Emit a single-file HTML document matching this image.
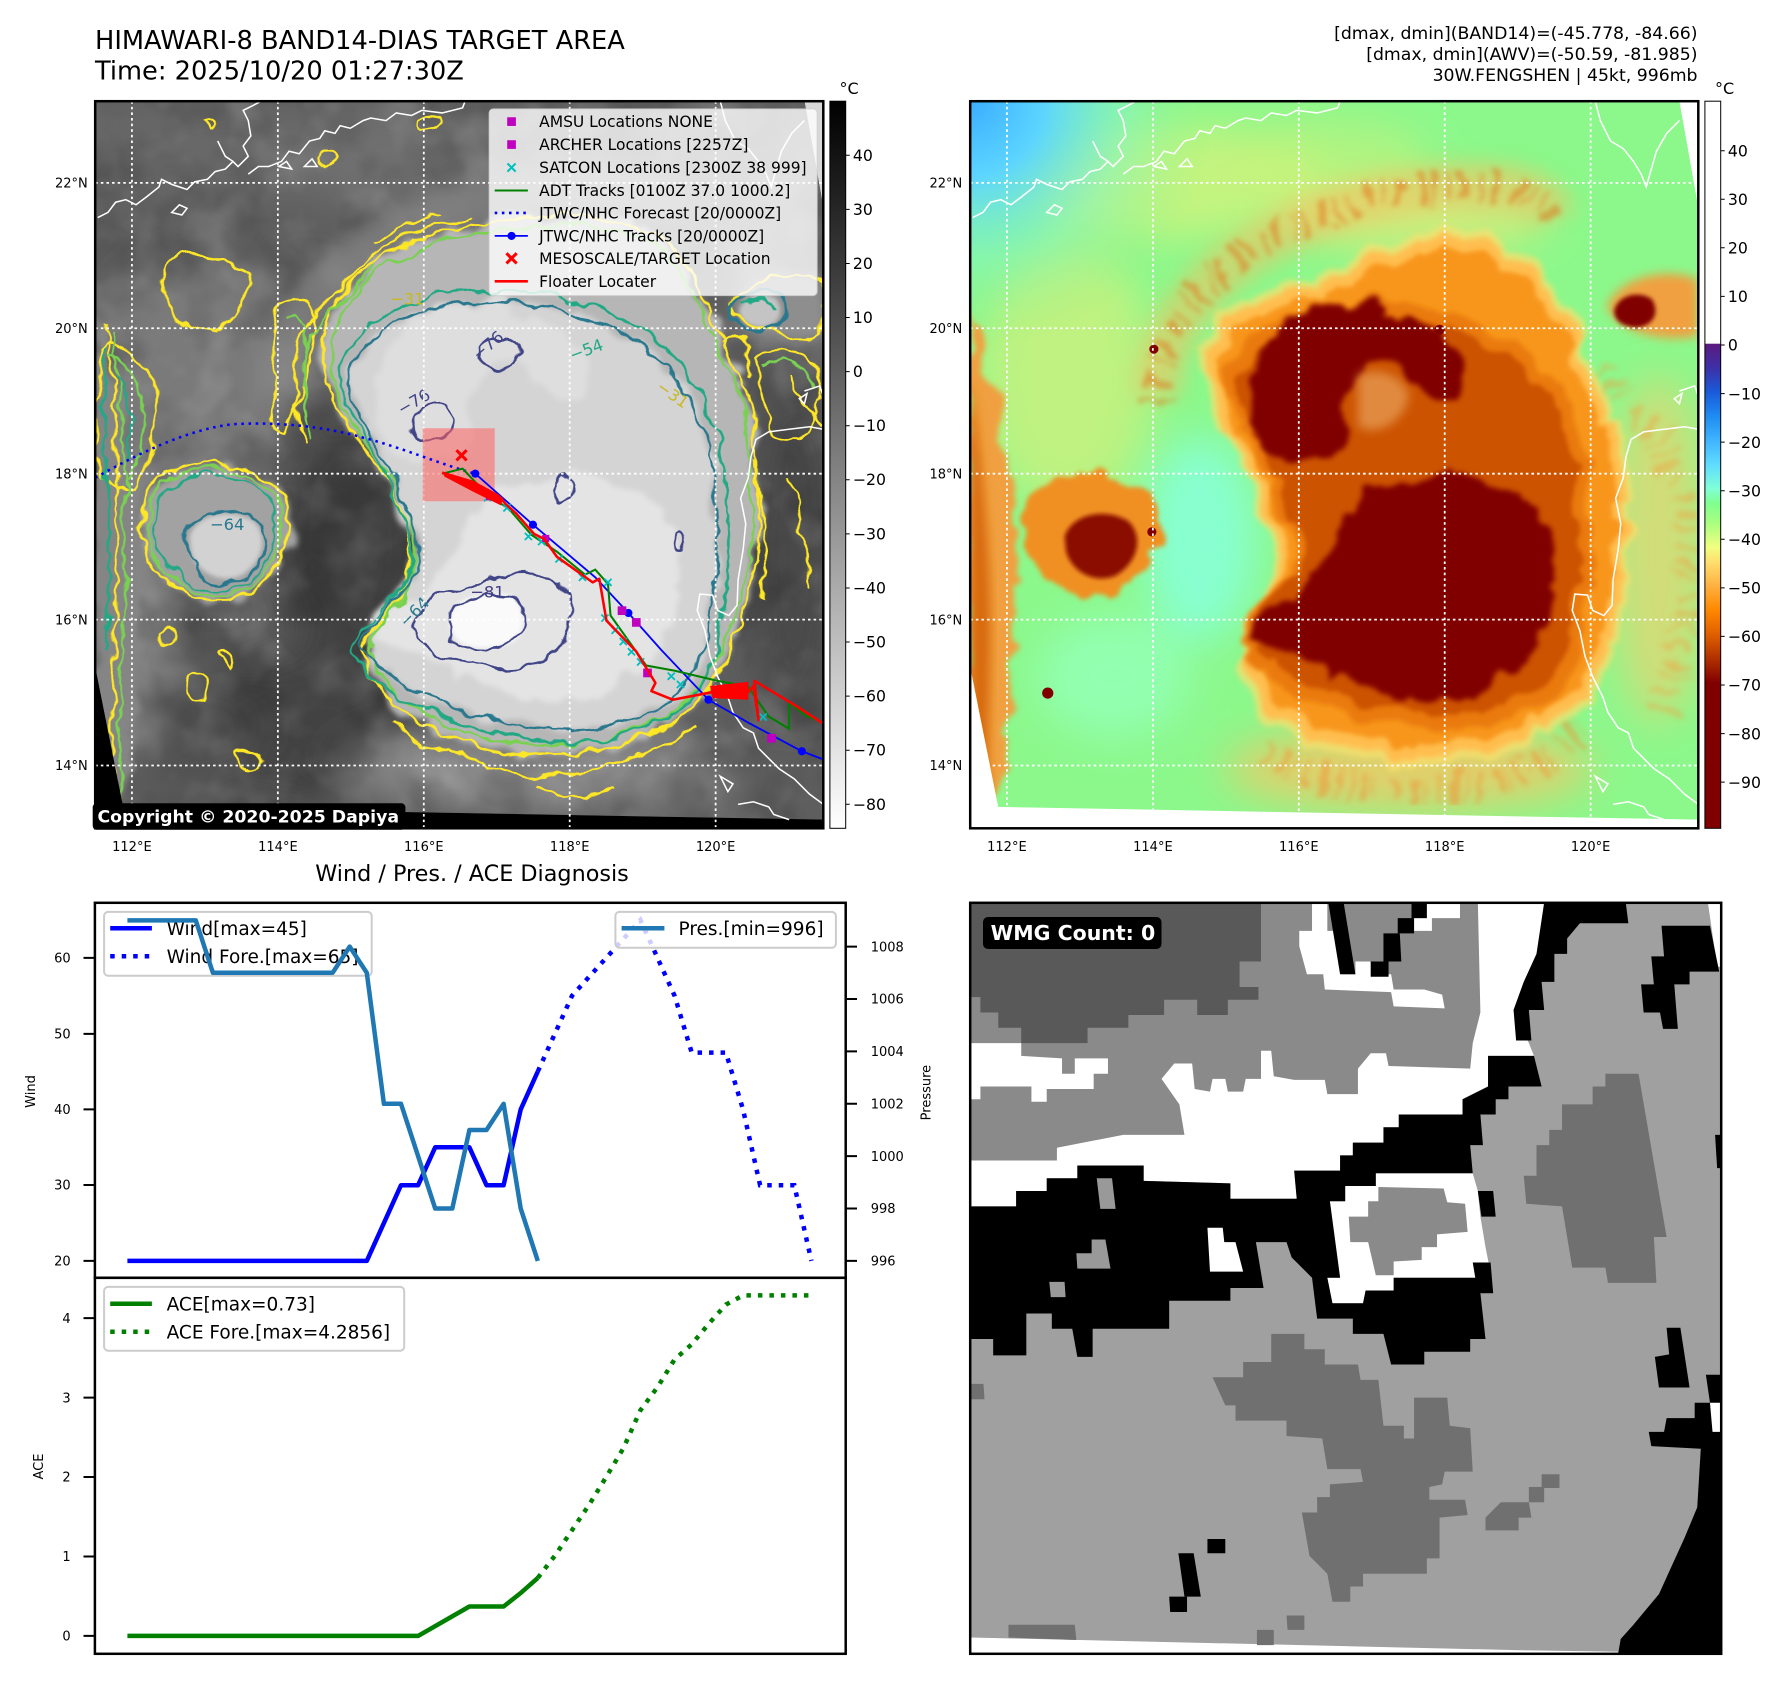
<!DOCTYPE html>
<html><head><meta charset="utf-8"><style>
html,body{margin:0;padding:0;background:#fff;}
#w{position:relative;width:1788px;height:1690px;overflow:hidden;background:#fff;}
svg{display:block;}
</style></head><body><div id="w">
<svg width="1788" height="1690" viewBox="0 0 1788 1690" font-family="DejaVu Sans, Liberation Sans, sans-serif">
<defs>
<filter id="b4" x="-30%" y="-30%" width="160%" height="160%"><feGaussianBlur stdDeviation="4"/></filter>
<filter id="b10" x="-30%" y="-30%" width="160%" height="160%"><feGaussianBlur stdDeviation="10"/></filter>
<filter id="b20" x="-40%" y="-40%" width="180%" height="180%"><feGaussianBlur stdDeviation="20"/></filter>
<filter id="b40" x="-60%" y="-60%" width="220%" height="220%"><feGaussianBlur stdDeviation="40"/></filter>
<filter id="wig" x="-8%" y="-8%" width="116%" height="116%">
<feTurbulence type="fractalNoise" baseFrequency="0.018" numOctaves="3" seed="2" result="t"/>
<feDisplacementMap in="SourceGraphic" in2="t" scale="34" xChannelSelector="R" yChannelSelector="G"/>
</filter>
<filter id="wf" x="-20%" y="-20%" width="140%" height="140%">
<feTurbulence type="fractalNoise" baseFrequency="0.014" numOctaves="3" seed="5" result="t"/>
<feDisplacementMap in="SourceGraphic" in2="t" scale="60" xChannelSelector="R" yChannelSelector="G" result="d"/>
<feGaussianBlur in="d" stdDeviation="5"/>
</filter>
<filter id="mottD" x="0" y="0" width="100%" height="100%">
<feTurbulence type="fractalNoise" baseFrequency="0.008" numOctaves="3" seed="9"/>
<feColorMatrix type="matrix" values="0 0 0 0 0  0 0 0 0 0  0 0 0 0 0  2.0 0 0 0 -0.9"/>
<feGaussianBlur stdDeviation="3"/>
</filter>
<filter id="mottL" x="0" y="0" width="100%" height="100%">
<feTurbulence type="fractalNoise" baseFrequency="0.01" numOctaves="3" seed="21"/>
<feColorMatrix type="matrix" values="0 0 0 0 1  0 0 0 0 1  0 0 0 0 1  2.0 0 0 0 -0.95"/>
<feGaussianBlur stdDeviation="3"/>
</filter>
<clipPath id="dclip"><path d="M20,22 L1410,22 L1447,230 L1447,1430 L75,1405 L20,1130 Z"/></clipPath>
<linearGradient id="cbL" x1="0" y1="0" x2="0" y2="1"><stop offset="0" stop-color="#000"/><stop offset="1" stop-color="#fff"/></linearGradient>
<linearGradient id="cbR" x1="0" y1="0" x2="0" y2="1">
<stop offset="0" stop-color="#fff"/><stop offset="0.333" stop-color="#fff"/><stop offset="0.334" stop-color="#5c1a80"/>
<stop offset="0.367" stop-color="#3c30a8"/><stop offset="0.40" stop-color="#1a5ad8"/><stop offset="0.433" stop-color="#1e8cf0"/>
<stop offset="0.467" stop-color="#40b4ff"/><stop offset="0.50" stop-color="#60dcff"/><stop offset="0.533" stop-color="#80ffd8"/>
<stop offset="0.553" stop-color="#80ff90"/><stop offset="0.58" stop-color="#a8ff80"/><stop offset="0.613" stop-color="#f0ff80"/>
<stop offset="0.633" stop-color="#ffe070"/><stop offset="0.667" stop-color="#ffb040"/><stop offset="0.70" stop-color="#ff8800"/>
<stop offset="0.733" stop-color="#e06000"/><stop offset="0.767" stop-color="#b03000"/><stop offset="0.80" stop-color="#800000"/><stop offset="1" stop-color="#800000"/>
</linearGradient>
<radialGradient id="cyan" gradientUnits="userSpaceOnUse" cx="20" cy="22" r="480">
<stop offset="0" stop-color="#3aaeff"/><stop offset="0.3" stop-color="#5cd4ff"/><stop offset="0.65" stop-color="#80f4c8" stop-opacity="0.5"/><stop offset="1" stop-color="#8cf88c" stop-opacity="0"/>
</radialGradient>
<path id="halo" d="M470,480 C480,400 560,330 660,290 C770,255 890,245 1000,250 C1110,258 1175,320 1205,400 C1240,480 1300,560 1312,680 C1322,800 1330,900 1300,1000 C1272,1100 1222,1195 1140,1248 C1040,1300 920,1312 800,1292 C700,1272 610,1222 562,1152 C532,1105 552,1065 602,1012 C640,970 645,900 625,830 C600,750 520,690 485,610 C465,560 465,520 470,480 Z"/>
<path id="haloR" d="M500,480 C540,420 620,400 700,390 C760,335 850,290 950,288 C1050,290 1120,320 1160,400 C1200,480 1260,580 1295,700 C1310,800 1305,950 1285,1050 C1260,1150 1210,1220 1120,1262 C1020,1310 900,1315 790,1298 C690,1280 610,1230 565,1160 C535,1110 560,1060 605,1010 C630,960 625,880 600,810 C570,740 520,690 500,620 C490,560 490,510 500,480 Z"/>
<path id="mid" d="M520,565 C540,475 640,425 760,418 C880,412 1000,440 1090,500 C1180,560 1222,650 1232,760 C1242,880 1240,1000 1212,1100 C1182,1190 1100,1238 1000,1250 C880,1262 760,1232 660,1182 C592,1150 552,1112 545,1082 C560,1040 622,990 652,940 C664,870 624,800 592,730 C562,670 515,620 520,565 Z"/>
<path id="cU" d="M565,600 C560,520 620,450 700,425 C780,410 860,430 920,465 C960,480 985,520 975,570 C965,610 920,600 890,570 C860,540 810,520 780,545 C760,590 770,650 740,700 C710,735 650,740 610,715 C580,690 568,650 565,600 Z"/>
<path id="cL" d="M560,1075 C600,1040 650,1000 690,950 C730,890 760,820 800,775 C880,750 1010,755 1090,790 C1165,830 1185,920 1165,1000 C1140,1090 1075,1160 980,1190 C880,1210 790,1180 720,1140 C660,1110 600,1100 560,1075 Z"/>
<path id="bLh" d="M125,790 C160,735 250,722 320,742 C385,762 412,822 392,885 C380,950 338,1000 268,1000 C198,1000 140,962 120,902 C108,852 112,815 125,790 Z"/>
<path id="bLc" d="M205,875 C220,830 285,818 330,845 C360,875 350,925 305,952 C262,968 220,945 208,905 Z"/>
<path id="bRh" d="M1268,425 C1290,365 1390,345 1447,372 L1447,482 C1390,495 1295,480 1268,425 Z"/>
<path id="bRc" d="M1282,432 C1290,402 1330,392 1356,410 C1372,436 1360,462 1326,466 C1296,463 1282,452 1282,432 Z"/>
<path id="ringP" d="M385,600 C390,470 480,360 620,285 C740,220 900,180 1050,190 C1110,195 1150,215 1160,250"/>
<path id="strip" d="M20,440 C60,500 100,700 110,900 C115,1100 90,1300 75,1405 L20,1405 Z"/>
<g id="coast" fill="none" stroke="#fff" stroke-width="3">
<path d="M25,250 L45,240 L60,220 L80,215 L100,225 L120,210 L145,190 L150,175 L170,185 L200,195 L215,180 L240,175 L255,160 L275,155 L290,140 L300,150 L320,130 L310,110 L325,90 L320,60 L310,40 L330,30 L345,22"/>
<path d="M320,165 L340,150 L360,150 L385,140 L400,120 L420,125 L440,100 L460,95 L470,80 L490,85 L500,70 L520,75 L545,60 L560,55 L590,60 L610,45 L640,50 L660,40 L700,45 L740,35 L745,22"/>
<path d="M260,100 L275,130 L290,140 M170,240 L185,225 L200,232 L190,245 Z M380,150 L395,140 L405,155 Z M430,150 L445,135 L455,150 Z"/>
<path d="M1245,22 L1255,60 L1275,100 L1300,115 L1320,140 L1335,165 L1345,190 L1352,165 L1365,120 L1385,85 L1410,60"/>
<path d="M1447,665 L1420,660 L1380,665 L1340,670 L1315,685 L1305,720 L1300,760 L1285,800 L1295,850 L1290,900 L1280,960 L1278,1010 L1262,1030 L1240,1020 L1230,990 L1205,988 L1200,1020 L1215,1060 L1225,1110 L1240,1150 L1260,1190 L1270,1220 L1290,1250 L1310,1260 L1320,1290 L1340,1310 L1360,1330 L1390,1350 L1420,1380 L1447,1400"/>
<path d="M1245,1345 L1270,1360 L1260,1375 Z M1280,1400 L1310,1395 L1340,1405 L1350,1420 L1380,1430 M1410,590 L1440,580 L1447,600 M1400,605 L1415,595 L1410,615 Z"/>
</g>
<g id="grid" fill="none" stroke="#fff" stroke-width="3.5" stroke-dasharray="5 6">
<path d="M92,22V1447 M378,22V1447 M664,22V1447 M950,22V1447 M1236,22V1447 M20,182H1447 M20,467H1447 M20,752H1447 M20,1038H1447 M20,1324H1447"/>
</g>
</defs>

<!-- Titles -->
<text x="95" y="49" font-size="25.7" fill="#000">HIMAWARI-8 BAND14-DIAS TARGET AREA</text>
<text x="95" y="79.5" font-size="25.7" fill="#000">Time: 2025/10/20 01:27:30Z</text>
<g font-size="17.3" text-anchor="end" fill="#000">
<text x="1697.5" y="39">[dmax, dmin](BAND14)=(-45.778, -84.66)</text>
<text x="1697.5" y="60">[dmax, dmin](AWV)=(-50.59, -81.985)</text>
<text x="1697.5" y="81">30W.FENGSHEN | 45kt, 996mb</text>
</g>
<text x="839.5" y="94" font-size="16">°C</text>
<text x="1715" y="94" font-size="16">°C</text>

<!-- LEFT MAP -->
<svg x="95.2" y="101.2" width="728.1" height="727.1" viewBox="20 22 1427 1425" preserveAspectRatio="none" overflow="hidden">
<rect x="0" y="0" width="1500" height="1500" fill="#000"/>
<path d="M1410,22 L1447,22 L1447,230 Z" fill="#d8d8d8"/>
<g clip-path="url(#dclip)">
<rect x="20" y="22" width="1427" height="1425" fill="#5e5e5e"/>
<g filter="url(#b40)">
<ellipse cx="250" cy="120" rx="260" ry="110" fill="#686868"/>
<ellipse cx="600" cy="130" rx="200" ry="100" fill="#707070"/>
<ellipse cx="230" cy="560" rx="200" ry="230" fill="#7a7a7a"/>
<ellipse cx="520" cy="880" rx="150" ry="240" fill="#404040"/>
<ellipse cx="470" cy="1250" rx="250" ry="160" fill="#434343"/>
<ellipse cx="200" cy="1250" rx="150" ry="120" fill="#505050"/>
<ellipse cx="1390" cy="900" rx="100" ry="340" fill="#484848"/>
<ellipse cx="1350" cy="250" rx="120" ry="200" fill="#6e6e6e"/>
<ellipse cx="90" cy="1000" rx="70" ry="300" fill="#868686"/>
<ellipse cx="880" cy="1330" rx="380" ry="80" fill="#8a8a8a"/>
<ellipse cx="1380" cy="440" rx="90" ry="60" fill="#8c8c8c"/>
</g>
<rect x="20" y="22" width="1427" height="1425" filter="url(#mottD)" opacity="0.25"/>
<rect x="20" y="22" width="1427" height="1425" filter="url(#mottL)" opacity="0.18"/>
<use href="#ringP" fill="none" stroke="#8a8a8a" stroke-width="100" opacity="0.7" filter="url(#b20)"/>
<use href="#strip" fill="#858585" filter="url(#wf)"/>
<use href="#halo" fill="#b6b6b6" filter="url(#wf)"/>
<use href="#mid" fill="#d4d4d4" filter="url(#wf)"/>
<use href="#cU" fill="#dedede" filter="url(#wf)"/>
<use href="#cL" fill="#e4e4e4" filter="url(#wf)"/>
<path d="M720,1020 C740,990 790,985 830,990 C860,1000 865,1050 850,1070 C830,1095 770,1100 740,1085 C715,1070 710,1040 720,1020 Z" fill="#fafafa" filter="url(#b4)"/>
<use href="#bLh" fill="#a2a2a2" filter="url(#wf)"/>
<use href="#bLc" fill="#d2d2d2" filter="url(#b4)"/>
<use href="#bRh" fill="#8e8e8e" filter="url(#b10)"/>
<use href="#bRc" fill="#c4c4c4" filter="url(#b4)"/>
<!-- contours -->
<g fill="none" stroke-width="5" stroke-linejoin="round" filter="url(#wig)">
<use href="#halo" stroke="#fde725"/>
<use href="#halo" stroke="#7ad151" transform="translate(930 780) scale(.965) translate(-930 -780)"/>
<use href="#mid" stroke="#22a884" transform="translate(880 830) scale(1.06) translate(-880 -830)"/>
<use href="#mid" stroke="#2a788e"/>
<use href="#bLh" stroke="#fde725"/>
<use href="#bLh" stroke="#7ad151" transform="translate(255 870) scale(.92) translate(-255 -870)"/>
<use href="#bLh" stroke="#22a884" transform="translate(255 870) scale(.84) translate(-255 -870)"/>
<use href="#bLc" stroke="#2a788e" transform="translate(280 890) scale(1.1) translate(-280 -890)"/>
<use href="#bRh" stroke="#fde725"/>
<use href="#bRc" stroke="#2a788e" transform="translate(1325 432) scale(1.3) translate(-1325 -432)"/>
<path stroke="#fde725" d="M430,700 C410,620 400,540 430,470 C460,420 520,380 560,330 C600,290 680,260 760,250 M170,330 C220,310 290,330 320,360 C330,400 300,440 260,470 C220,480 180,460 160,420 C150,380 155,350 170,330 Z M40,450 C60,600 70,800 60,1000 C55,1150 50,1300 60,1400 M1250,500 C1280,450 1320,500 1300,560 M720,1290 C800,1340 900,1360 1000,1330 C1080,1310 1150,1280 1200,1250 M600,1240 C640,1280 680,1300 720,1290 M1380,560 C1400,620 1430,640 1447,660 M200,1150 C230,1130 260,1160 230,1190 C200,1200 190,1170 200,1150 Z M450,130 C470,110 500,120 490,140 C470,160 450,150 450,130 Z M230,60 C250,50 260,70 245,80 Z M650,60 C680,40 720,60 700,80 C680,90 650,80 650,60 Z"/>
<path stroke="#fde725" d="M30,500 C60,480 110,520 130,580 C150,650 130,740 90,780 C60,790 30,760 25,700 Z M380,420 C420,400 460,430 450,480 C440,540 420,600 400,660 C380,700 360,650 365,600 C370,540 360,470 380,420 Z M1320,520 C1360,500 1420,520 1440,560 C1445,620 1420,680 1380,690 C1340,680 1320,600 1320,520 Z M1310,720 C1330,800 1340,900 1330,1000 M1380,760 C1400,820 1420,900 1410,980 M880,1360 C920,1390 980,1395 1040,1370 M300,1300 C330,1280 360,1300 340,1330 C320,1345 295,1330 300,1300 Z M560,300 C600,280 640,250 700,240 M140,1060 C160,1040 190,1060 180,1090 C165,1100 140,1090 140,1060 Z M260,1100 C280,1090 300,1110 285,1130 Z"/>
<path stroke="#7ad151" d="M55,470 C75,650 85,820 75,1000 C70,1150 65,1300 72,1400 M440,690 C425,610 420,540 445,480 C480,430 530,395 570,345 M45,520 C80,530 110,580 115,640 C118,700 100,740 80,760 M1330,540 C1370,525 1415,545 1430,580 M395,450 C425,440 440,480 430,530"/>
<path stroke="#22a884" d="M35,500 C45,700 50,900 45,1100 M1290,420 C1310,400 1340,405 1350,430 M60,560 C85,590 95,650 85,720"/>
<g stroke="#414487">
<path d="M640,650 C650,620 690,610 715,630 C730,655 715,685 690,690 C660,690 640,675 640,650 Z"/>
<path d="M770,505 C790,480 830,485 850,500 C860,520 850,545 820,545 C790,545 765,530 770,505 Z"/>
<path d="M640,1060 C650,1010 700,975 760,965 C820,950 880,945 930,960 C960,990 955,1050 930,1090 C900,1130 840,1140 780,1130 C720,1120 650,1100 640,1060 Z"/>
<path d="M720,1020 C740,990 790,985 830,990 C860,1000 865,1050 850,1070 C830,1095 770,1100 740,1085 C715,1070 710,1040 720,1020 Z"/>
<path d="M920,770 C935,755 960,760 962,780 C958,800 930,805 920,790 Z M1150,870 C1165,860 1180,880 1170,900 C1155,905 1145,890 1150,870 Z"/>
</g>
</g>
<g font-size="32" fill="#414487">
<text x="760" y="520" transform="rotate(-40 780 510)">−76</text>
<text x="612" y="625" transform="rotate(-30 640 615)">−76</text>
<text x="755" y="995" fill="#433e85">−81</text>
<text x="615" y="1040" fill="#2a788e" transform="rotate(-45 640 1030)">−64</text>
<text x="950" y="525" fill="#22a884" transform="rotate(-20 970 515)">−54</text>
<text x="1120" y="600" fill="#c8b820" transform="rotate(35 1140 590)">−31</text>
<text x="598" y="420" fill="#c8b820">−31</text>
<text x="245" y="862" fill="#2a788e">−64</text>
</g>
</g>
<use href="#coast"/>
<use href="#grid"/>
<!-- tracks -->
<rect x="662" y="663" width="141" height="143" fill="#ff6060" opacity="0.55"/>
<path d="M20,760 C100,715 200,665 290,655 C380,650 470,660 540,680 C620,700 700,735 765,752" fill="none" stroke="#0000ff" stroke-width="5" stroke-dasharray="5 9"/>
<path d="M765,752 L878,852 L1000,955 L1065,1025 L1130,1098 L1222,1195 L1300,1240 L1405,1296 L1447,1312" fill="none" stroke="#0000ff" stroke-width="3.5"/>
<g fill="#0000ff"><circle cx="765" cy="752" r="8"/><circle cx="878" cy="852" r="8"/><circle cx="1065" cy="1025" r="8"/><circle cx="1222" cy="1195" r="8"/><circle cx="1405" cy="1296" r="8"/></g>
<path d="M700,752 L740,742 L790,795 L830,820 L875,872 L925,905 L980,950 L1000,940 L1025,968 L1030,1030 L1100,1128 L1155,1138 L1240,1158 L1300,1170 L1340,1228 L1380,1252 L1380,1200 L1410,1225 L1447,1240" fill="none" stroke="#008000" stroke-width="4"/>
<g stroke="#00bfbf" stroke-width="3.5">
<path d="M782,792 l14,14 m0,-14 l-14,14 M862,868 l14,14 m0,-14 l-14,14 M888,878 l14,14 m0,-14 l-14,14 M922,912 l14,14 m0,-14 l-14,14 M968,948 l14,14 m0,-14 l-14,14 M1018,958 l14,14 m0,-14 l-14,14 M1012,1028 l14,14 m0,-14 l-14,14 M1032,1052 l14,14 m0,-14 l-14,14 M1048,1074 l14,14 m0,-14 l-14,14 M1064,1094 l14,14 m0,-14 l-14,14 M1082,1114 l14,14 m0,-14 l-14,14 M1142,1142 l14,14 m0,-14 l-14,14 M1160,1158 l14,14 m0,-14 l-14,14 M1322,1222 l14,14 m0,-14 l-14,14 M820,812 l14,14 m0,-14 l-14,14"/>
</g>
<g fill="#bf00bf"><rect x="1044" y="1012" width="17" height="17"/><rect x="1072" y="1035" width="17" height="17"/><rect x="1094" y="1134" width="17" height="17"/><rect x="1337" y="1262" width="17" height="17"/><rect x="896" y="872" width="14" height="14"/><rect x="786" y="790" width="14" height="14"/></g>
<path d="M700,750 L760,768 L810,795 L825,812 L845,830 L880,870 L900,880 L925,915 L995,965 L1008,958 L1022,1040 L1080,1100 L1118,1162 L1110,1178 L1152,1195 L1230,1180 L1250,1170 L1270,1182 L1290,1168 L1300,1180 L1310,1168 L1320,1235 L1312,1158 L1390,1205 L1447,1242" fill="none" stroke="#ff0000" stroke-width="5" stroke-linejoin="round"/>
<path d="M700,750 L760,765 L820,800 L815,814 L760,787 L705,758 Z M1225,1168 L1300,1160 L1300,1195 L1230,1192 Z" fill="#ff0000"/>
<path d="M728,706 l20,20 m0,-20 l-20,20" stroke="#ff0000" stroke-width="6"/>
<!-- legend -->
<rect x="792" y="37" width="643" height="366" rx="8" fill="#fff" fill-opacity="0.8" stroke="#cccccc" stroke-opacity="0.8" stroke-width="2"/>
<rect x="827.5" y="53.5" width="17" height="17" fill="#bf00bf"/>
<rect x="827.5" y="98.5" width="17" height="17" fill="#bf00bf"/>
<path d="M828,144 l16,16 m0,-16 l-16,16" stroke="#00bfbf" stroke-width="4"/>
<path d="M803,197 H868" stroke="#008000" stroke-width="4"/>
<path d="M803,241 H868" stroke="#0000ff" stroke-width="5" stroke-dasharray="5 9"/>
<path d="M803,286 H868" stroke="#0000ff" stroke-width="3.5"/><circle cx="836" cy="286" r="8" fill="#0000ff"/>
<path d="M826,320 l20,20 m0,-20 l-20,20" stroke="#ff0000" stroke-width="6"/>
<path d="M803,375 H868" stroke="#ff0000" stroke-width="5"/>
<g font-size="30.4" fill="#000">
<text x="890" y="73">AMSU Locations NONE</text>
<text x="890" y="118">ARCHER Locations [2257Z]</text>
<text x="890" y="163">SATCON Locations [2300Z 38 999]</text>
<text x="890" y="208">ADT Tracks [0100Z 37.0 1000.2]</text>
<text x="890" y="252">JTWC/NHC Forecast [20/0000Z]</text>
<text x="890" y="297">JTWC/NHC Tracks [20/0000Z]</text>
<text x="890" y="341">MESOSCALE/TARGET Location</text>
<text x="890" y="386">Floater Locater</text>
</g>
</svg>
<rect x="95.2" y="101.2" width="728.1" height="727.1" fill="none" stroke="#000" stroke-width="2.5"/>
<rect x="92.7" y="803.3" width="312.7" height="26.5" rx="4" fill="#000"/>
<text x="97.5" y="822.5" font-size="17.3" font-weight="bold" fill="#fff">Copyright © 2020-2025 Dapiya</text>

<!-- left colorbar -->
<rect x="829.9" y="101.2" width="15.8" height="727.1" fill="url(#cbL)" stroke="#000" stroke-width="1"/>
<g stroke="#000" stroke-width="1"><path d="M845.7,155.3h4 M845.7,209.4h4 M845.7,263.5h4 M845.7,317.5h4 M845.7,371.6h4 M845.7,425.7h4 M845.7,479.8h4 M845.7,533.9h4 M845.7,588h4 M845.7,642h4 M845.7,696.1h4 M845.7,750.2h4 M845.7,804.3h4"/></g>
<g font-size="15.7" fill="#000">
<text x="852.9" y="161">40</text><text x="852.9" y="215">30</text><text x="852.9" y="269">20</text><text x="852.9" y="323">10</text><text x="852.9" y="377">0</text>
<text x="852.9" y="431">−10</text><text x="852.9" y="485">−20</text><text x="852.9" y="539.5">−30</text><text x="852.9" y="593.5">−40</text><text x="852.9" y="647.5">−50</text>
<text x="852.9" y="701.5">−60</text><text x="852.9" y="755.5">−70</text><text x="852.9" y="810">−80</text>
</g>

<!-- RIGHT MAP -->
<svg x="970.2" y="101.2" width="728.1" height="727.1" viewBox="20 22 1427 1425" preserveAspectRatio="none" overflow="hidden">
<rect x="0" y="0" width="1500" height="1500" fill="#fff"/>
<g clip-path="url(#dclip)">
<rect x="20" y="22" width="1427" height="1425" fill="#8cf88c"/>
<g filter="url(#b40)">
<ellipse cx="420" cy="180" rx="300" ry="110" fill="#dcf27a" opacity="0.7"/>
<ellipse cx="720" cy="130" rx="200" ry="70" fill="#c8f27a" opacity="0.6"/>
<ellipse cx="210" cy="560" rx="170" ry="260" fill="#d4f07c" opacity="0.7"/>
<ellipse cx="470" cy="880" rx="110" ry="200" fill="#88ffd0"/>
<ellipse cx="300" cy="1150" rx="150" ry="120" fill="#92ffb0"/>
<ellipse cx="1370" cy="900" rx="90" ry="340" fill="#f0d070" opacity="0.7"/>
<ellipse cx="880" cy="1330" rx="360" ry="80" fill="#ffc060" opacity="0.75"/>
<ellipse cx="900" cy="250" rx="260" ry="70" fill="#e8e878" opacity="0.7"/>
</g>
<rect x="20" y="22" width="1427" height="1425" fill="url(#cyan)"/>
<use href="#ringP" fill="none" stroke="#f4c060" stroke-width="90" opacity="0.55" filter="url(#b20)"/>
<use href="#ringP" fill="none" stroke="#e07018" stroke-width="55" stroke-dasharray="7 19 14 26 5 15 11 33 18 12 6 24" opacity="0.5" filter="url(#wf)"/>
<use href="#strip" fill="#f0a040" filter="url(#wf)"/>
<path d="M20,560 C40,700 60,900 60,1050 C60,1200 50,1320 60,1400 L20,1400 Z" fill="#d86a10" filter="url(#b10)"/>
<path d="M1250,560 C1320,620 1400,700 1420,820 C1440,950 1420,1100 1380,1220" fill="none" stroke="#f0a040" stroke-width="55" stroke-dasharray="9 23 17 15 6 27" opacity="0.45" filter="url(#wf)"/>
<path d="M600,1300 C700,1360 850,1390 1000,1370 C1100,1350 1180,1300 1220,1250" fill="none" stroke="#f09030" stroke-width="55" stroke-dasharray="8 21 15 13 5 25" opacity="0.5" filter="url(#wf)"/>
<use href="#haloR" fill="#f8e070" opacity="0.75" filter="url(#wf)" transform="translate(930 800) scale(1.03) translate(-930 -800)"/>
<use href="#haloR" fill="#ffbe50" filter="url(#wf)"/>
<use href="#haloR" fill="#f8961e" filter="url(#wf)" transform="translate(930 800) scale(.95) translate(-930 -800)"/>
<use href="#mid" fill="#ea7a10" filter="url(#wf)"/>
<use href="#mid" fill="#cc5200" filter="url(#wf)" transform="translate(880 830) scale(.93) translate(-880 -830)"/>
<use href="#cU" fill="#800000" filter="url(#wf)"/>
<use href="#cL" fill="#800000" filter="url(#wf)"/>
<path d="M780,560 C820,540 870,560 880,600 C870,650 820,680 780,660 Z" fill="#e08a40" filter="url(#b10)"/>
<use href="#bLh" fill="#f09020" filter="url(#wf)" transform="translate(250 880) scale(.92) translate(-250 -880)"/>
<use href="#bLc" fill="#8a0800" filter="url(#b4)"/>
<use href="#bRh" fill="#f0a040" filter="url(#b10)"/>
<use href="#bRc" fill="#800000" filter="url(#b4)"/>
<g fill="#800000"><circle cx="380" cy="508" r="9"/><circle cx="376" cy="866" r="9"/><circle cx="172" cy="1182" r="11"/><circle cx="940" cy="470" r="10"/></g>
</g>
<use href="#coast"/>
<use href="#grid"/>
</svg>
<rect x="970.2" y="101.2" width="728.1" height="727.1" fill="none" stroke="#000" stroke-width="2.5"/>

<!-- right colorbar -->
<rect x="1704.9" y="101.2" width="15.8" height="727.1" fill="url(#cbR)" stroke="#000" stroke-width="1"/>
<g stroke="#000" stroke-width="1"><path d="M1720.7,150.7h4 M1720.7,199.3h4 M1720.7,247.8h4 M1720.7,296.4h4 M1720.7,345h4 M1720.7,393.6h4 M1720.7,442.1h4 M1720.7,490.7h4 M1720.7,539.3h4 M1720.7,587.9h4 M1720.7,636.4h4 M1720.7,685h4 M1720.7,733.6h4 M1720.7,782.1h4"/></g>
<g font-size="15.7" fill="#000">
<text x="1727.9" y="156.5">40</text><text x="1727.9" y="205">30</text><text x="1727.9" y="253.5">20</text><text x="1727.9" y="302">10</text><text x="1727.9" y="350.7">0</text>
<text x="1727.9" y="399.3">−10</text><text x="1727.9" y="447.8">−20</text><text x="1727.9" y="496.4">−30</text><text x="1727.9" y="545">−40</text><text x="1727.9" y="593.6">−50</text>
<text x="1727.9" y="642.1">−60</text><text x="1727.9" y="690.7">−70</text><text x="1727.9" y="739.3">−80</text><text x="1727.9" y="787.8">−90</text>
</g>

<!-- map tick labels -->
<g font-size="13" fill="#000" text-anchor="middle">
<text x="131.9" y="850.8">112°E</text><text x="277.9" y="850.8">114°E</text><text x="423.8" y="850.8">116°E</text><text x="569.7" y="850.8">118°E</text><text x="715.6" y="850.8">120°E</text>
<text x="1006.9" y="850.8">112°E</text><text x="1152.9" y="850.8">114°E</text><text x="1298.8" y="850.8">116°E</text><text x="1444.7" y="850.8">118°E</text><text x="1590.6" y="850.8">120°E</text>
</g>
<g font-size="13" fill="#000" text-anchor="end">
<text x="87.8" y="187.6">22°N</text><text x="87.8" y="333">20°N</text><text x="87.8" y="478.4">18°N</text><text x="87.8" y="624.3">16°N</text><text x="87.8" y="770.2">14°N</text>
<text x="962.3" y="187.6">22°N</text><text x="962.3" y="333">20°N</text><text x="962.3" y="478.4">18°N</text><text x="962.3" y="624.3">16°N</text><text x="962.3" y="770.2">14°N</text>
</g>

<text x="472" y="881" font-size="22.3" text-anchor="middle" fill="#000">Wind / Pres. / ACE Diagnosis</text>

<!-- WIND PANEL -->
<polyline points="127.4,1260.9 366.8,1260.9 401,1185.2 418.1,1185.2 435.2,1147.3 469.4,1147.3 486.5,1185.2 503.6,1185.2 520.7,1109.4 537.8,1071.5" fill="none" stroke="#0000ff" stroke-width="4.5" stroke-linejoin="round"/>
<polyline points="537.8,1071.5 554.9,1033.7 572,995.8 589.1,976.8 606.2,957.9 623.3,939 640.4,920 657.5,957.9 674.6,995.8 691.7,1052.6 708.8,1052.6 725.9,1052.6 743,1109.4 760.1,1185.2 777.2,1185.2 794.3,1185.2 811.4,1260.9" fill="none" stroke="#0000ff" stroke-width="4.5" stroke-dasharray="4.5 7"/>
<rect x="104.1" y="911.9" width="267.6" height="63.8" rx="4" fill="#fff" fill-opacity="0.8" stroke="#cccccc" stroke-width="2"/>
<path d="M110.2,928.3H151.9" stroke="#0000ff" stroke-width="4.5"/>
<path d="M110.2,956.3H151.9" stroke="#0000ff" stroke-width="4.5" stroke-dasharray="4.5 7"/>
<g font-size="18.5" fill="#000"><text x="166.6" y="935">Wind[max=45]</text><text x="166.6" y="963">Wind Fore.[max=65]</text></g>
<polyline points="127.4,920.4 195.8,920.4 212.9,972.8 332.6,972.8 349.7,946.6 366.8,972.8 383.9,1103.8 401,1103.8 435.2,1208.5 452.3,1208.5 469.4,1130 486.5,1130 503.6,1103.8 520.7,1208.5 537.8,1260.9" fill="none" stroke="#1f77b4" stroke-width="4.5" stroke-linejoin="round"/>
<rect x="615.4" y="911.9" width="220.5" height="35.8" rx="4" fill="#fff" fill-opacity="0.8" stroke="#cccccc" stroke-width="2"/>
<path d="M621.6,928.3H664.4" stroke="#1f77b4" stroke-width="4.5"/>
<text x="678.5" y="935" font-size="18.5" fill="#000">Pres.[min=996]</text>
<rect x="94.9" y="902.8" width="750.8" height="375" fill="none" stroke="#000" stroke-width="2.5"/>
<g stroke="#000" stroke-width="2"><path d="M83.5,957.9H94.9 M83.5,1033.9H94.9 M83.5,1109.4H94.9 M83.5,1185H94.9 M83.5,1260.9H94.9"/>
<path d="M845.7,946.6H857 M845.7,999H857 M845.7,1051.4H857 M845.7,1103.8H857 M845.7,1156.1H857 M845.7,1208.5H857 M845.7,1260.9H857"/></g>
<g font-size="13" fill="#000" text-anchor="end"><text x="70.7" y="962.6">60</text><text x="70.7" y="1038.6">50</text><text x="70.7" y="1114.1">40</text><text x="70.7" y="1189.7">30</text><text x="70.7" y="1265.6">20</text></g>
<g font-size="13" fill="#000"><text x="870.7" y="951.3">1008</text><text x="870.7" y="1003.7">1006</text><text x="870.7" y="1056.1">1004</text><text x="870.7" y="1108.5">1002</text><text x="870.7" y="1160.8">1000</text><text x="870.7" y="1213.2">998</text><text x="870.7" y="1265.6">996</text></g>
<text transform="translate(35.2 1091.5) rotate(-90)" font-size="13" text-anchor="middle" fill="#000">Wind</text>
<text transform="translate(930.5 1092.6) rotate(-90)" font-size="13" text-anchor="middle" fill="#000">Pressure</text>

<!-- ACE PANEL -->
<polyline points="127.4,1635.9 418.1,1635.9 469.4,1606.5 503.6,1606.5 520.7,1593 537.8,1577.9" fill="none" stroke="#008000" stroke-width="4.5" stroke-linejoin="round"/>
<polyline points="537.8,1577.9 554.9,1555.7 572,1530.2 589.1,1504.8 606.2,1477 623.3,1448.4 640.4,1410.3 657.5,1387.2 674.6,1359.4 691.7,1344.3 708.8,1323.7 725.9,1304.6 743,1295.4 811.4,1295.4" fill="none" stroke="#008000" stroke-width="4.5" stroke-dasharray="4.5 7"/>
<rect x="104.1" y="1286.9" width="300.1" height="63.8" rx="4" fill="#fff" fill-opacity="0.8" stroke="#cccccc" stroke-width="2"/>
<path d="M110.2,1303.8H151.9" stroke="#008000" stroke-width="4.5"/>
<path d="M110.2,1331.8H151.9" stroke="#008000" stroke-width="4.5" stroke-dasharray="4.5 7"/>
<g font-size="18.5" fill="#000"><text x="166.6" y="1310.5">ACE[max=0.73]</text><text x="166.6" y="1338.5">ACE Fore.[max=4.2856]</text></g>
<rect x="94.9" y="1277.8" width="750.8" height="376" fill="none" stroke="#000" stroke-width="2.5"/>
<g stroke="#000" stroke-width="2"><path d="M83.5,1318.1H94.9 M83.5,1397.6H94.9 M83.5,1477H94.9 M83.5,1556.5H94.9 M83.5,1635.9H94.9"/></g>
<g font-size="13" fill="#000" text-anchor="end"><text x="70.7" y="1322.8">4</text><text x="70.7" y="1402.3">3</text><text x="70.7" y="1481.7">2</text><text x="70.7" y="1561.2">1</text><text x="70.7" y="1640.6">0</text></g>
<text transform="translate(43 1466.5) rotate(-90)" font-size="13" text-anchor="middle" fill="#000">ACE</text>

<!-- BOTTOM RIGHT WMG -->
<svg x="970.2" y="902.8" width="751" height="751" viewBox="20 25 1472 1472" preserveAspectRatio="none" overflow="hidden">
<rect x="20" y="25" width="1472" height="1472" fill="#a0a0a0"/>
<polygon fill="#8a8a8a" points="20,25 1015,25 1050,240 1035,330 1000,350 850,345 780,350 780,400 720,400 440,420 440,480 320,480 190,505 190,530 20,530"/>
<polygon fill="#595959" points="20,25 590,25 590,140 548,140 548,190 585,190 585,215 525,215 525,245 465,245 465,215 400,215 400,245 330,245 330,270 250,270 250,300 120,300 120,270 75,270 75,240 40,240 40,210 20,210"/>
<g fill="#fff">
<polygon points="20,300 120,300 120,325 200,330 200,360 225,360 225,330 290,330 290,360 262,360 262,390 170,390 170,415 140,415 140,385 40,385 40,410 20,410"/>
<polygon points="20,530 190,530 190,505 320,480 440,480 430,420 395,370 420,340 455,340 460,390 490,395 495,370 520,370 525,395 555,395 560,370 590,370 590,315 610,315 615,365 655,372 715,372 720,400 780,400 780,350 805,320 835,320 840,345 1000,350 1005,300 1020,240 1015,25 1145,25 1130,125 1105,180 1085,235 1115,300 1125,325 1035,325 1035,385 985,410 985,440 860,440 860,465 830,465 830,495 770,495 770,520 745,520 745,550 655,550 660,605 530,605 530,575 360,570 360,540 230,540 230,565 170,565 170,590 110,590 110,620 20,620"/>
<polygon points="690,25 720,25 720,80 745,80 748,165 775,165 775,140 805,140 810,165 845,165 850,195 910,195 945,205 950,232 850,228 845,200 715,195 712,165 680,165 665,110 665,80 690,80"/>
<polygon points="915,25 980,25 980,55 925,55 925,80 890,80 890,55 915,55"/>
<polygon points="725,610 755,610 755,580 815,580 815,555 1005,555 1015,590 1020,640 1030,700 1040,750 1010,760 850,760 850,785 795,785 790,810 730,810 720,760 745,760"/>
<polygon points="1466,25 1492,25 1492,150 1484,150"/>
<polygon points="20,1465 1100,1490 1290,1493 1290,1497 20,1497"/>
</g>
<polygon fill="#8a8a8a" points="762,640 800,640 800,610 820,610 820,582 948,585 955,612 990,615 995,670 935,675 935,700 905,700 905,725 850,728 850,755 815,755 800,690 765,690"/>
<g fill="#000">
<polygon points="20,620 110,620 110,590 170,590 170,565 230,565 230,540 360,540 360,570 530,575 530,605 660,605 655,550 745,550 745,520 770,520 770,495 830,495 830,465 860,465 860,440 985,440 985,410 1035,385 1035,325 1125,325 1140,385 1075,385 1075,410 1050,410 1050,440 1020,440 1025,500 1000,500 1005,555 815,555 815,580 755,580 755,610 725,610 745,760 720,760 730,810 790,810 795,785 850,785 850,760 1010,760 1040,750 1045,790 1020,790 1030,880 1000,880 1000,905 910,905 910,930 845,930 830,870 770,870 770,840 700,840 690,760 650,720 640,690 580,690 595,780 530,780 530,805 410,805 410,860 260,860 260,915 230,915 220,860 180,860 180,830 130,830 130,912 65,912 65,880 20,880"/>
<polygon points="722,25 752,25 775,165 745,165"/>
<polygon points="830,85 862,85 865,140 840,140 840,170 805,170 805,140 830,140"/>
<polygon points="858,55 890,55 890,85 858,85"/>
<polygon points="885,25 915,25 915,55 885,55"/>
<polygon points="1015,590 1045,590 1050,640 1022,640"/>
<polygon points="1005,730 1040,730 1045,790 1015,790"/>
<polygon points="1145,25 1305,25 1310,65 1215,65 1190,95 1190,125 1165,125 1165,180 1140,180 1145,235 1115,235 1120,295 1090,295 1085,235 1105,180 1130,125"/>
<polygon points="1375,70 1470,70 1488,160 1430,160 1430,185 1400,185 1407,272 1378,272 1372,240 1340,240 1335,185 1360,185 1355,130 1380,130"/>
<polygon points="1480,480 1492,480 1492,545 1484,545"/>
<polygon points="1385,858 1412,858 1430,975 1370,975 1362,915 1390,910"/>
<polygon points="1462,950 1492,950 1492,1497 1290,1497 1295,1468 1320,1440 1345,1410 1370,1380 1395,1325 1420,1270 1445,1210 1452,1095 1355,1090 1350,1062 1380,1062 1385,1035 1440,1035 1440,1005 1470,1005"/>
<polygon points="485,1272 520,1272 520,1300 485,1300"/>
<polygon points="428,1300 458,1300 472,1385 440,1385"/>
<polygon points="410,1385 445,1385 445,1415 412,1415"/>
</g>
<g fill="#999">
<polygon points="268,565 298,565 305,625 275,625"/>
<polygon points="228,712 258,712 258,685 285,685 295,742 230,742"/>
<polygon points="175,768 205,768 207,798 178,798"/>
</g>
<polygon fill="#fff" points="485,662 515,662 518,690 540,690 555,748 490,748"/>
<polygon fill="#fff" points="1470,1005 1490,1005 1490,1062 1475,1062"/>
<g fill="#707070">
<polygon points="1180,420 1240,420 1240,385 1265,385 1265,360 1330,360 1385,680 1360,680 1365,770 1270,770 1265,740 1200,740 1180,620 1110,615 1105,560 1130,560 1130,500 1155,500 1155,470 1180,470"/>
<polygon points="610,870 675,870 675,900 715,900 715,930 780,930 785,960 820,960 830,1050 870,1050 870,1075 890,1075 890,995 955,995 960,1050 1000,1055 1005,1140 950,1140 945,1165 920,1170 920,1195 990,1195 995,1225 940,1230 940,1310 915,1310 915,1340 790,1340 790,1365 765,1365 765,1395 730,1395 720,1340 685,1305 670,1220 700,1220 700,1190 725,1190 725,1165 790,1160 785,1135 720,1135 710,1075 640,1070 640,1040 540,1040 540,1010 520,1010 495,955 555,955 555,925 610,925"/>
<polygon points="1030,1230 1060,1200 1115,1200 1120,1230 1095,1230 1095,1255 1030,1255"/>
<polygon points="1115,1170 1145,1170 1145,1200 1115,1200"/>
<polygon points="1140,1145 1175,1145 1175,1172 1140,1172"/>
<polygon points="95,1440 225,1440 228,1470 95,1465"/>
<polygon points="582,1450 615,1450 615,1480 582,1480"/>
<polygon points="640,1422 675,1422 675,1450 642,1450"/>
<polygon points="20,968 46,968 48,998 20,998"/>
</g>
</svg>
<rect x="970.2" y="902.8" width="751" height="751" fill="none" stroke="#000" stroke-width="2.5"/>
<rect x="983" y="917" width="178.5" height="32" rx="5" fill="#000"/>
<text x="990.6" y="940" font-size="20.5" font-weight="bold" fill="#fff">WMG Count: 0</text>
</svg>
</div></body></html>
